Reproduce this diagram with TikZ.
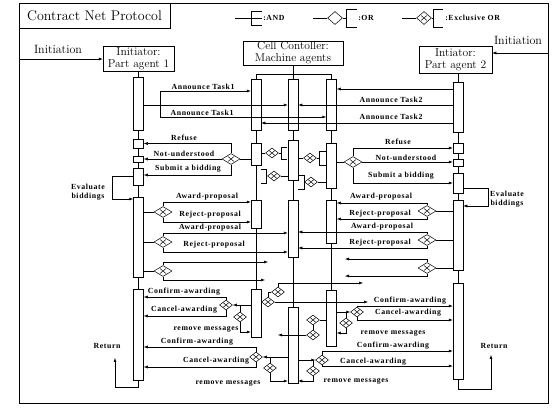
\documentclass[tikz,border=0pt]{standalone}
\usepackage{fontspec}
\newfontfamily\lblfont[LetterSpace=8]{Liberation Serif}
\usetikzlibrary{shapes.geometric,arrows.meta}
\begin{document}
\begin{tikzpicture}[x=1pt,y=-1pt,line width=0.5pt,
    bar/.style={draw,fill=white,minimum width=10pt,inner sep=0pt},
    agent/.style={draw,fill=white,align=center,inner sep=0pt,font=\fontsize{11.5}{12}\selectfont},
    lbl/.style={font=\lblfont\bfseries\fontsize{7.8}{8.5}\selectfont,inner sep=0pt,align=center},
    msg/.style={-{Latex[length=4pt,width=3pt]}},
    xor/.style={diamond,draw,fill=white,inner sep=0pt,minimum width=18pt,minimum height=11pt,
      path picture={\draw (path picture bounding box.center) +(-3pt,-2.5pt) -- +(3pt,2.5pt)
        (path picture bounding box.center) +(-3pt,2.5pt) -- +(3pt,-2.5pt);}},
    sxor/.style={xor,minimum width=13pt,minimum height=10pt}]
\useasboundingbox (0,0) rectangle (558,409);

% frame and legend
\draw[line width=0.8pt] (19,3) rectangle (548,403);
\draw[line width=0.8pt] (19,3) rectangle (170,28);
\node[font=\fontsize{14}{14}\selectfont] (title) at (94.5,15.5) {Contract Net Protocol};
\draw (235,18) -- (262,18);
\draw (262,11) -| (251,25) -- (262,25);
\node[lbl,anchor=west] (land) at (263,18) {:AND};
\node[xor,minimum width=15pt,minimum height=13pt,path picture={}] (lor) at (335,18) {};
\draw (313,18) -- (lor.west) (lor.east) -- (346,18);
\draw (357,9) -| (346,27) -- (357,27);
\node[lbl,anchor=west] (lortxt) at (358,18) {:OR};
\node[xor,minimum width=15pt,minimum height=13pt] (lxor) at (424,18) {};
\draw (402,18) -- (lxor.west) (lxor.east) -- (433,18);
\draw (443,9) -| (433,27) -- (443,27);
\node[lbl,anchor=west] (lxortxt) at (445,18) {:Exclusive OR};

% agents
\node[agent,minimum width=71pt,minimum height=25pt] (pa1) at (138.5,58.5) {Initiator:\\Part agent 1};
\node[agent,minimum width=100pt,minimum height=24pt] (cc) at (293,53) {Cell Contoller:\\Machine agents};
\node[agent,minimum width=73pt,minimum height=27pt] (pa2) at (455.5,59.5) {Intiator:\\Part agent 2};
\node[font=\fontsize{12}{12}\selectfont] (init1) at (58,49) {Initiation};
\node[font=\fontsize{12}{12}\selectfont] (init2) at (518,40) {Initiation};
\coordinate (in1) at (19,59);
\coordinate (in2) at (548,53);
\draw[msg] (in1) -- (pa1.west |- in1);
\draw[msg] (in2) -- (pa2.east |- in2);

% activation bars
\begin{scope}[every node/.style={bar}]
  \node[minimum height=53pt] (pa1a) at (138.5,103.5) {};
  \node[minimum height=9pt]  (pa1b) at (138.5,143.5) {};
  \node[minimum height=6pt]  (pa1c) at (138.5,159) {};
  \node[minimum height=17pt] (pa1d) at (138.5,176.5) {};
  \node[minimum height=80pt] (pa1e) at (138.5,237) {};
  \node[minimum height=91pt] (pa1f) at (138.5,334.5) {};
  \node[minimum height=51pt] (cc1a) at (256,104.5) {};
  \node[minimum height=22pt] (cc1b) at (256,154) {};
  \node[minimum height=28pt] (cc1c) at (256,214) {};
  \node[minimum height=48pt] (cc1d) at (256,313) {};
  \node[minimum height=51pt] (cc2a) at (293,104.5) {};
  \node[minimum height=40pt] (cc2b) at (293,160) {};
  \node[minimum height=57pt] (cc2c) at (293,228.5) {};
  \node[minimum height=76pt] (cc2d) at (293,345) {};
  \node[minimum height=51pt] (cc3a) at (331.5,104.5) {};
  \node[minimum height=45pt] (cc3b) at (331.5,165.5) {};
  \node[minimum height=43pt] (cc3c) at (331.5,221.5) {};
  \node[minimum height=56pt] (cc3d) at (331.5,318) {};
  \node[minimum height=50pt] (pa2a) at (458,107) {};
  \node[minimum height=10pt] (pa2b) at (458,148) {};
  \node[minimum height=7pt]  (pa2c) at (458,162.5) {};
  \node[minimum height=20pt] (pa2d) at (458,183) {};
  \node[minimum height=70pt] (pa2e) at (458,235) {};
  \node[minimum height=96pt] (pa2f) at (458,331) {};
\end{scope}

% life lines
\coordinate (cctop) at (293,74);
\draw (pa1.south) -- (pa1a.north) (pa1a.south) -- (pa1b.north) (pa1b.south) -- (pa1c.north)
  (pa1c.south) -- (pa1d.north) (pa1d.south) -- (pa1e.north) (pa1e.south) -- (pa1f.north);
\draw (pa2.south -| pa2a.north) -- (pa2a.north) (pa2a.south) -- (pa2b.north) (pa2b.south) -- (pa2c.north)
  (pa2c.south) -- (pa2d.north) (pa2d.south) -- (pa2e.north) (pa2e.south) -- (pa2f.north);
\draw (cc.south) -- (cctop) (cc1a.north |- cctop) -- (cc3a.north |- cctop);
\draw (cc1a.north |- cctop) -- (cc1a.north) (cc1a.south) -- (cc1b.north) (cc1b.south) -- (cc1c.north) (cc1c.south) -- (cc1d.north);
\draw (cctop) -- (cc2a.north) (cc2a.south) -- (cc2b.north) (cc2b.south) -- (cc2c.north) (cc2c.south) -- (cc2d.north);
\draw (cc3a.north |- cctop) -- (cc3a.north) (cc3a.south) -- (cc3b.north) (cc3b.south) -- (cc3c.north) (cc3c.south) -- (cc3d.north);

% announce
\coordinate (f1) at (160,91);
\coordinate (f2) at (160,117);
\draw[msg] (pa1a.east |- 0,105) -- (cc2a.west |- 0,105);
\draw (f1) -- (f2);
\draw[msg] (f1) -- (cc1a.west |- f1);
\draw[msg] (f2) -- (cc3a.west |- f2);
\draw[msg] (pa2a.west |- 0,89) -- (cc3a.east |- 0,89);
\draw[msg] (pa2a.west |- 0,105) -- (cc2a.east |- 0,105);
\draw[msg] (pa2a.west |- 0,123) -- (cc1a.east |- 0,123);

% bids
\node[xor] (dl1) at (231,159) {};
\draw (dl1.east) -- (cc1b.west |- dl1);
\draw[msg] (dl1.north) |- (pa1b.east);
\draw[msg] (dl1.west) -- (pa1c.east |- dl1);
\draw[msg] (dl1.south) |- (pa1d.east |- 0,175);
\node[xor] (dr1) at (353,162) {};
\draw (cc3b.east |- dr1) -- (dr1.west);
\draw[msg] (dr1.north) |- (pa2b.west);
\draw[msg] (dr1.east) -- (pa2c.west |- dr1);
\draw[msg] (dr1.south) |- (pa2d.west |- 0,183);

% joins between machine agents
\node[sxor] (s1) at (272,153) {};
\draw (cc1b.east |- s1) -- (s1.west) (s1.east) -- (281,153);
\draw (287,147) -| (281,159) -- (287,159);
\node[sxor] (s2) at (274,176) {};
\draw (261,169) -| (266,183) -- (261,183) (266,176) -- (s2.west);
\draw (s2.east) -- (cc2b.west |- s2);
\node[sxor] (s3) at (310,158) {};
\draw (cc2b.east |- s3) -- (s3.west) (s3.east) -- (319,158);
\draw (326,151) -| (319,165) -- (326,165);
\node[sxor] (s4) at (311,182) {};
\draw (298,175) -| (304,189) -- (298,189) (304,182) -- (s4.west);
\draw (s4.east) -- (cc3b.west |- s4);

% evaluate
\draw[msg] (pa1d.west) -- ++(-21,0) |- (pa1e.west |- 0,199);
\draw[msg] (pa2d.east |- 0,188) -- ++(25,0) |- (pa2e.east |- 0,206);

% proposals
\node[xor] (dl2) at (163,212) {};
\draw (pa1e.east |- dl2) -- (dl2.west);
\draw[msg] (dl2.north) |- (cc1c.west |- 0,202);
\draw[msg] (dl2.south) |- (cc1c.west |- 0,222);
\node[xor] (dl3) at (163,242) {};
\draw (pa1e.east |- dl3) -- (dl3.west);
\draw[msg] (dl3.north) |- (cc2c.west |- 0,233);
\draw[msg] (dl3.south) |- (cc2c.west |- 0,252);
\node[xor] (dl4) at (163,271) {};
\coordinate (e1) at (268,262);
\coordinate (e2) at (265,280);
\draw (pa1e.east |- dl4) -- (dl4.west);
\draw[msg] (dl4.north) |- (e1);
\draw[msg] (dl4.south) |- (e2);
\node[xor] (dr2) at (427,211) {};
\draw (pa2e.west |- dr2) -- (dr2.east);
\draw[msg] (dr2.north) |- (cc3c.east |- 0,203);
\draw[msg] (dr2.south) |- (cc3c.east |- 0,219);
\node[xor] (dr3) at (427,240) {};
\draw (pa2e.west |- dr3) -- (dr3.east);
\draw[msg] (dr3.north) |- (cc2c.east |- 0,232);
\draw[msg] (dr3.south) |- (cc2c.east |- 0,248);
\node[xor] (dr4) at (427,268) {};
\coordinate (e3) at (345,259);
\coordinate (e4) at (345,276);
\draw (pa2e.west |- dr4) -- (dr4.east);
\draw[msg] (dr4.north) |- (e3);
\draw[msg] (dr4.south) |- (e4);

% middle forks
\node[sxor] (dm1) at (278,292) {};
\node[sxor] (dm2) at (268,302) {};
\coordinate (e5) at (363,283);
\coordinate (e6) at (368,302);
\draw (cc1d.east |- dm2) -- (dm2.west);
\draw (dm2.north) |- (dm1.west);
\draw[msg] (dm1.north) |- (e5);
\draw[msg] (dm2.east) -- (e6);
\node[sxor] (dm3) at (313,320) {};
\node[sxor] (dm4) at (313,335) {};
\coordinate (e7) at (278,335);
\draw (cc3d.west |- dm3) -- (dm3.east);
\draw (dm3.south) -- (dm4.north);
\draw[msg] (dm4.west) -- (e7);

% awarding
\begin{scope}[every node/.style={sxor}]
  \node (db1) at (226,305) {};
  \node (db2) at (240,317) {};
  \node (db3) at (256,357) {};
  \node (db4) at (270,368) {};
  \node (db5) at (357,312) {};
  \node (db6) at (346,323) {};
  \node (db7) at (322,360) {};
  \node (db8) at (313,371) {};
\end{scope}
\draw[msg] (cc1d.west |- db1) -- (db1.east);
\draw (db2.north) -- (db2.north |- db1);
\draw[msg] (db1.north) |- (pa1f.east |- 0,297);
\draw[msg] (db1.south) |- (pa1f.east |- 0,316);
\draw[msg] (db2.south) |- (cc1d.west |- 0,332);
\draw[msg] (cc2d.west |- db3) -- (db3.east);
\draw (db4.north) -- (db4.north |- db3);
\draw[msg] (db3.north) |- (pa1f.east |- 0,347);
\draw[msg] (db3.south) |- (pa1f.east |- 0,367);
\draw[msg] (db4.south) |- (cc2d.west |- 0,381);
\draw[msg] (cc3d.east |- db5) -- (db5.west);
\draw (db6.north) -- (db6.north |- db5);
\draw[msg] (db5.north) |- (pa2f.west |- 0,306);
\draw[msg] (db5.south) |- (pa2f.west |- 0,320);
\draw[msg] (db6.south) |- (cc3d.east |- 0,333);
\draw[msg] (cc2d.east |- db7) -- (db7.west);
\draw (db8.north) -- (db8.north |- db7);
\draw[msg] (db7.north) |- (pa2f.west |- 0,351);
\draw[msg] (db7.south) |- (pa2f.west |- 0,366);
\draw[msg] (db8.south) |- (cc2d.east |- 0,381);

% return
\coordinate (rl) at (115,358);
\coordinate (rr) at (491,355);
\draw[msg] (pa1f.south) -- ++(0,7) -| (rl);
\draw[msg] (pa2f.south) -- ++(0,10) -| (rr);

% labels
\begin{scope}[every node/.style={lbl}]
  \node (t1) at (203,87) {Announce Task1};
  \node (t2) at (202,113) {Announce Task1};
  \node (t3) at (391,100) {Announce Task2};
  \node (t4) at (391,117) {Announce Task2};
  \node (r1) at (184,138) {Refuse};
  \node (r2) at (184,154) {Not-understood};
  \node (r3) at (188,169) {Submit a bidding};
  \node (r4) at (398,142) {Refuse};
  \node (r5) at (406,158) {Not-understood};
  \node (r6) at (401,176) {Submit a bidding};
  \node (ev1) at (88,192) {Evaluate\\biddings};
  \node (ev2) at (507,199) {Evaluate\\biddings};
  \node (a1) at (207,197) {Award-proposal};
  \node (a2) at (210,215) {Reject-proposal};
  \node (a3) at (210,228) {Award-proposal};
  \node (a4) at (214,245) {Reject-proposal};
  \node (a5) at (381,197) {Award-proposal};
  \node (a6) at (380,214) {Reject-proposal};
  \node (a7) at (382,227) {Award-proposal};
  \node (a8) at (380,243) {Reject-proposal};
  \node (c1) at (184,292) {Confirm-awarding};
  \node (c2) at (184,310) {Cancel-awarding};
  \node (c3) at (206,329) {remove messages};
  \node (c4) at (197,342) {Confirm-awarding};
  \node (c5) at (216,361) {Cancel-awarding};
  \node (c6) at (228,383) {remove messages};
  \node (c7) at (410,301) {Confirm-awarding};
  \node (c8) at (408,313) {Cancel-awarding};
  \node (c9) at (393,333) {remove messages};
  \node (c10) at (393,346) {Confirm-awarding};
  \node (c11) at (373,362) {Cancel-awarding};
  \node (c12) at (356,381) {remove messages};
  \node (ret1) at (107,346) {Return};
  \node (ret2) at (494,346) {Return};
\end{scope}
\end{tikzpicture}
\end{document}
